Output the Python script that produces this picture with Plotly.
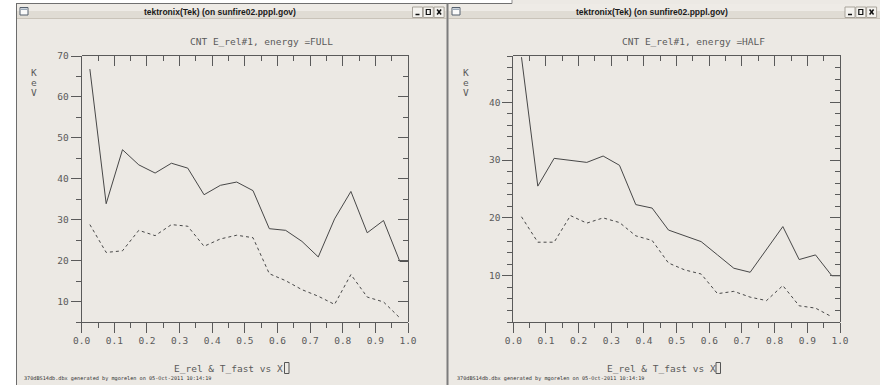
import plotly.graph_objects as go

# ---------------- data ----------------
x_solid = [0.025, 0.075, 0.125, 0.175, 0.225, 0.275, 0.325, 0.375, 0.425, 0.475,
           0.525, 0.575, 0.625, 0.675, 0.725, 0.775, 0.825, 0.875, 0.925, 0.975, 1.0]
x_dash = [0.025, 0.075, 0.125, 0.175, 0.225, 0.275, 0.325, 0.375, 0.425, 0.475,
          0.525, 0.575, 0.625, 0.675, 0.725, 0.775, 0.825, 0.875, 0.925, 0.975]

full_solid = [66.8, 33.9, 47.1, 43.4, 41.4, 43.8, 42.6, 36.1, 38.4, 39.2,
              37.1, 27.8, 27.4, 24.7, 20.9, 30.2, 36.9, 26.8, 29.8, 19.8, 19.8]
full_dash = [28.8, 22.0, 22.4, 27.4, 26.1, 28.8, 28.4, 23.5, 25.3, 26.2,
             25.6, 16.8, 15.1, 12.9, 11.3, 9.3, 16.6, 11.1, 9.9, 6.0]

half_solid = [47.8, 25.5, 30.3, 29.9, 29.6, 30.7, 29.1, 22.3, 21.7, 17.9,
              16.9, 15.9, 13.6, 11.3, 10.6, 14.6, 18.5, 12.8, 13.6, 10.0, 10.0]
half_dash = [20.2, 15.8, 15.8, 20.4, 19.1, 20.0, 19.2, 16.9, 16.1, 12.2,
             11.0, 10.3, 6.9, 7.3, 6.3, 5.7, 8.3, 4.8, 4.4, 2.9]

titles = ["CNT E_rel#1, energy =FULL", "CNT E_rel#1, energy =HALF"]
window_title = "tektronix(Tek) (on sunfire02.pppl.gov)"
x_title = "E_rel & T_fast vs X"
footer = "370dBS14db.dbx generated by mgorelen on 05-Oct-2011 10:14:19"
y_units = ["K", "e", "V"]

# ---------------- style ----------------
W, H = 880, 385
BG = "#ECE9E4"
AX = "#5a5a5a"
LINE = "#474747"
MONO = "DejaVu Sans Mono"
CLEAR = "rgba(0,0,0,0)"


def px(x):
    return x / W


def py(y):
    return 1 - y / H


fig = go.Figure()

panels = [
    dict(main="", frame="3", solid=full_solid, dash=full_dash,
         xl=81.7, xr=408.0, yr=[5, 70], minor=5),
    dict(main="2", frame="4", solid=half_solid, dash=half_dash,
         xl=513.3, xr=840.0, yr=[2, 48], minor=2),
]
top_px, bot_px = 56.0, 322.0

for p in panels:
    xa, ya = "x" + p["main"], "y" + p["main"]
    fig.add_trace(go.Scatter(x=x_solid, y=p["solid"], xaxis=xa, yaxis=ya,
                             mode="lines", line=dict(color=LINE, width=1),
                             showlegend=False, hoverinfo="skip"))
    fig.add_trace(go.Scatter(x=x_dash, y=p["dash"], xaxis=xa, yaxis=ya,
                             mode="lines", line=dict(color=LINE, width=1, dash="3px,3px"),
                             showlegend=False, hoverinfo="skip"))
for p in panels:
    # invisible copy so the top/right tick-frame subplot is drawn
    fig.add_trace(go.Scatter(x=x_solid, y=p["solid"], xaxis="x" + p["frame"],
                             yaxis="y" + p["frame"], mode="lines",
                             line=dict(color=LINE, width=1), opacity=0,
                             showlegend=False, hoverinfo="skip"))

tickfont = dict(family=MONO, size=9.5, color=AX)


def x_cfg(domain, anchor, ticks, **kw):
    d = dict(domain=domain, anchor=anchor, range=[0, 1], tick0=0, dtick=0.1,
             showgrid=False, zeroline=False, showline=True, linecolor=AX, linewidth=1,
             ticks=ticks, tickcolor=AX, ticklen=10, tickwidth=1, automargin=False,
             minor=dict(dtick=0.05, ticklen=5, ticks=ticks, tickcolor=AX, tickwidth=1))
    d.update(kw)
    return d


def y_cfg(domain, anchor, rng, minor, ticks, **kw):
    d = dict(domain=domain, anchor=anchor, range=rng, tick0=0, dtick=10,
             showgrid=False, zeroline=False, showline=True, linecolor=AX, linewidth=1,
             ticks=ticks, tickcolor=AX, ticklen=10, tickwidth=1, automargin=False,
             minor=dict(dtick=minor, ticklen=5, ticks=ticks, tickcolor=AX, tickwidth=1))
    d.update(kw)
    return d


ydom = [py(bot_px), py(top_px)]
layout_axes = {}
for p in panels:
    xdom = [px(p["xl"]), px(p["xr"])]
    n, f = p["main"], p["frame"]
    layout_axes["xaxis" + n] = x_cfg(xdom, "y" + n, "outside", side="bottom",
                                     tickformat=".1f", tickfont=tickfont)
    layout_axes["yaxis" + n] = y_cfg(ydom, "x" + n, p["yr"], p["minor"], "outside",
                                     side="left", tickfont=tickfont)
    layout_axes["xaxis" + f] = x_cfg(xdom, "y" + f, "inside", side="top",
                                     showticklabels=False)
    layout_axes["yaxis" + f] = y_cfg(ydom, "x" + f, p["yr"], p["minor"], "inside",
                                     side="right", showticklabels=False)

fig.update_layout(**layout_axes)

# ---------------- window chrome (decoration) ----------------
shapes = []


def rect(x0, y0, x1, y1, fill=None, line=None, lw=1):
    shapes.append(dict(type="rect", xref="paper", yref="paper", layer="below",
                       x0=px(x0), x1=px(x1), y0=py(y1), y1=py(y0),
                       fillcolor=fill if fill else CLEAR,
                       line=dict(color=line if line else CLEAR, width=lw if line else 0)))


def seg(x0, y0, x1, y1, color, lw=1):
    shapes.append(dict(type="line", xref="paper", yref="paper", layer="below",
                       x0=px(x0), x1=px(x1), y0=py(y0), y1=py(y1),
                       line=dict(color=color, width=lw)))


rect(0, 0, 16, H, fill="#FFFFFF")
rect(16, 0, 512, 3.5, fill="#FFFFFF")
seg(16, 3.5, 512, 3.5, "#707070")
seg(512, 0, 512, 3.5, "#909090")

for (x0, x1) in [(16.5, 446.5), (448.5, 880)]:
    rect(x0, 4, x1, 11, fill="#EEEBE6")
    rect(x0, 11, x1, 18.5, fill="#E0DCD4")
    seg(x0, 18.5, x1, 18.5, "#C9C3B9")

seg(16.5, 3.5, 16.5, H, "#6c6c6c", 1)
seg(447.5, 3.5, 447.5, H, "#7c7c7c", 2)

for x0 in [20, 452]:
    rect(x0, 7.5, x0 + 8, 15, fill="#FAFAFA", line="#55606e")
    rect(x0 + 1, 8.5, x0 + 7, 10, fill="#9aaabb")

for bx in [412.5, 845]:
    for k in range(3):
        x0 = bx + k * 10.8
        rect(x0, 7, x0 + 10, 17.5, fill="#F4F2EE", line="#A8A39A")
    seg(bx + 3, 14.5, bx + 7, 14.5, "#111", 1.5)
    rect(bx + 10.8 + 3, 9.5, bx + 10.8 + 7, 14.5, line="#111", lw=1.2)
    seg(bx + 21.6 + 3, 9.5, bx + 21.6 + 7, 14.5, "#111", 1.5)
    seg(bx + 21.6 + 3, 14.5, bx + 21.6 + 7, 9.5, "#111", 1.5)

for cx in [284.5, 716.0]:
    rect(cx, 362.5, cx + 4.5, 373.5, line="#555", lw=1)

annotations = []


def text(x, y, s, size, family=MONO, color=AX, xanchor="center", bold=False):
    if bold:
        s = "<b>" + s + "</b>"
    annotations.append(dict(x=px(x), y=py(y), xref="paper", yref="paper", text=s,
                            showarrow=False, xanchor=xanchor, yanchor="middle",
                            font=dict(family=family, size=size, color=color)))


text(220, 12, window_title, 8.5, family="Liberation Sans", color="#1a1a1a", bold=True)
text(652, 12, window_title, 8.5, family="Liberation Sans", color="#1a1a1a", bold=True)
text(261, 41, titles[0], 9.5)
text(693, 41, titles[1], 9.5)
for base in [34, 466]:
    for j, ch in enumerate(y_units):
        text(base, 72.5 + j * 10.2, ch, 9.5)
text(228.5, 368, x_title, 9.5)
text(661, 368, x_title, 9.5)
text(22, 378.5, footer, 5.2, xanchor="left", color="#333")
text(455, 378.5, footer, 5.2, xanchor="left", color="#333")

fig.update_layout(
    template="none",
    width=W, height=H, autosize=False,
    margin=dict(l=0, r=0, t=0, b=0, pad=0, autoexpand=False),
    paper_bgcolor=BG, plot_bgcolor=CLEAR,
    showlegend=False,
    shapes=shapes, annotations=annotations,
)

fig.write_html("out.html", config=dict(displayModeBar=False, staticPlot=True))
